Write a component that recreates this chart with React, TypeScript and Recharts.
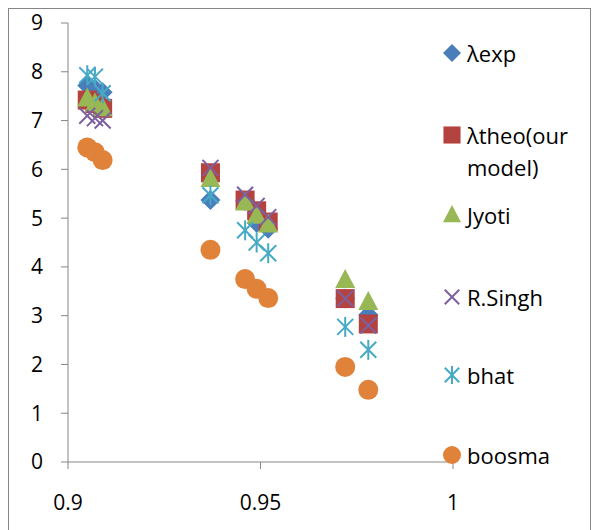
import { Scatter, ScatterChart, XAxis, YAxis } from "recharts";

const X_VALUES = [0.905, 0.907, 0.909, 0.937, 0.946, 0.949, 0.952, 0.972, 0.978];

const LAMBDA_EXP = [7.72, 7.65, 7.58, 5.37, 5.35, 4.9, 4.78, 3.35, 3.02];
const LAMBDA_THEO = [7.42, 7.35, 7.25, 5.93, 5.37, 5.15, 4.92, 3.35, 2.83];
const JYOTI = [7.45, 7.35, 7.25, 5.8, 5.32, 5.05, 4.87, 3.73, 3.28];
const R_SINGH = [7.1, 7.05, 7.0, 6.03, 5.48, 5.25, 5.02, 3.35, 2.8];
const BHAT = [7.93, 7.9, 7.56, 5.47, 4.75, 4.5, 4.28, 2.77, 2.3];
const BOOSMA = [6.45, 6.35, 6.19, 4.35, 3.75, 3.55, 3.36, 1.95, 1.48];

const X_TICKS = [0.9, 0.95, 1];
const Y_TICKS = [0, 1, 2, 3, 4, 5, 6, 7, 8, 9];

const FONT = "'Open Sans', sans-serif";
const AXIS = "#868686";

type Kind = "diamond" | "square" | "triangle" | "cross" | "star" | "circle";

const drawMarker = (kind: Kind, color: string, cx: number, cy: number, s = 1) => {
  switch (kind) {
    case "diamond":
      return (
        <polygon
          fill={color}
          points={`${cx},${cy - 10 * s} ${cx + 10 * s},${cy} ${cx},${cy + 10 * s} ${cx - 10 * s},${cy}`}
        />
      );
    case "square":
      return <rect fill={color} height={19 * s} width={19 * s} x={cx - 9.5 * s} y={cy - 9.5 * s} />;
    case "triangle":
      return (
        <polygon
          fill={color}
          points={`${cx},${cy - 11 * s} ${cx + 10 * s},${cy + 8 * s} ${cx - 10 * s},${cy + 8 * s}`}
        />
      );
    case "cross":
      return (
        <g stroke={color} strokeWidth={2}>
          <line x1={cx - 8 * s} x2={cx + 8 * s} y1={cy - 8 * s} y2={cy + 8 * s} />
          <line x1={cx - 8 * s} x2={cx + 8 * s} y1={cy + 8 * s} y2={cy - 8 * s} />
        </g>
      );
    case "star":
      return (
        <g stroke={color} strokeWidth={2}>
          <line x1={cx - 8 * s} x2={cx + 8 * s} y1={cy - 8 * s} y2={cy + 8 * s} />
          <line x1={cx - 8 * s} x2={cx + 8 * s} y1={cy + 8 * s} y2={cy - 8 * s} />
          <line x1={cx} x2={cx} y1={cy - 10 * s} y2={cy + 10 * s} />
        </g>
      );
    default:
      return <circle cx={cx} cy={cy} fill={color} r={10 * s} />;
  }
};

const SERIES: { name: string; values: number[]; color: string; kind: Kind }[] = [
  { name: "λexp", values: LAMBDA_EXP, color: "#4A7EBB", kind: "diamond" },
  { name: "λtheo(our model)", values: LAMBDA_THEO, color: "#B4423F", kind: "square" },
  { name: "Jyoti", values: JYOTI, color: "#97B854", kind: "triangle" },
  { name: "R.Singh", values: R_SINGH, color: "#7D60A0", kind: "cross" },
  { name: "bhat", values: BHAT, color: "#46AAC5", kind: "star" },
  { name: "boosma", values: BOOSMA, color: "#E1823A", kind: "circle" }
];

// vertical centre of the first text line of each legend entry
const LEGEND_Y = [53, 135, 215, 297, 375, 455];

function SideLegend() {
  return (
    <div style={{ position: "absolute", left: 0, top: 0 }}>
      {SERIES.map((s, i) => (
        <div
          key={s.name}
          style={{
            position: "absolute",
            left: 441,
            top: LEGEND_Y[i] - 16,
            display: "flex",
            alignItems: "flex-start"
          }}
        >
          <svg height={32} style={{ flex: "none" }} width={24}>
            {drawMarker(s.kind, s.color, 11, 16, 0.9)}
          </svg>
          <div
            style={{
              width: 124,
              fontFamily: FONT,
              fontSize: 22,
              lineHeight: "32px",
              color: "#000",
              marginLeft: 2
            }}
          >
            {s.name}
          </div>
        </div>
      ))}
    </div>
  );
}

export default function App() {
  return (
    <div style={{ position: "absolute", left: 0, top: 0, width: 595, height: 530, overflow: "hidden", background: "#fff" }}>
      <div
        style={{
          position: "absolute",
          left: 8,
          top: 8,
          width: 581,
          height: 560,
          border: `1px solid ${AXIS}`
        }}
      />
      <div style={{ position: "absolute", left: 0, top: 0 }}>
        <ScatterChart height={530} margin={{ top: 23, right: 142, bottom: 38, left: 28 }} width={595}>
          <XAxis
            axisLine={{ stroke: AXIS }}
            dataKey="x"
            domain={[0.9, 1]}
            height={30}
            tick={{ fill: "#000", fontFamily: FONT, fontSize: 21 }}
            tickLine={{ stroke: AXIS }}
            tickMargin={26}
            tickSize={7}
            ticks={X_TICKS}
            type="number"
          />
          <YAxis
            axisLine={{ stroke: AXIS }}
            dataKey="y"
            domain={[0, 9]}
            tick={{ fill: "#000", fontFamily: FONT, fontSize: 21 }}
            tickLine={{ stroke: AXIS }}
            tickMargin={18}
            tickSize={7}
            ticks={Y_TICKS}
            type="number"
            width={40}
          />
          {SERIES.map((s) => (
            <Scatter
              data={X_VALUES.map((x, i) => ({ x, y: s.values[i] }))}
              isAnimationActive={false}
              key={s.name}
              name={s.name}
              shape={(p: any) => drawMarker(s.kind, s.color, p.cx, p.cy)}
            />
          ))}
        </ScatterChart>
      </div>
      <SideLegend />
    </div>
  );
}
